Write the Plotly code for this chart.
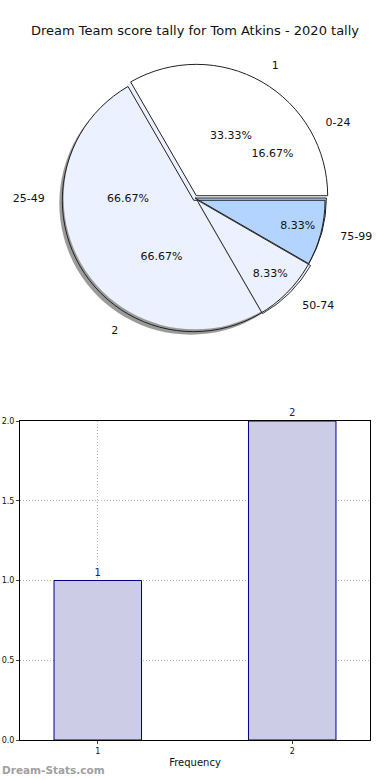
import plotly.graph_objects as go

# ---- data ----
title_text = "Dream Team score tally for Tom Atkins - 2020 tally"
tally_labels = ["1", "2"]
tally_values = [1, 2]
range_labels = ["0-24", "25-49", "50-74", "75-99"]
range_values = [2, 8, 1, 1]
bar_cats = [1, 2]
bar_vals = [1, 2]
y_ticks = [0.0, 0.5, 1.0, 1.5, 2.0]

W, H = 390, 780
def px_x(a, b):
    return [a / W, b / W]
def px_y(top, bot):
    return [1 - bot / H, 1 - top / H]
def py(v):
    return 1 - v / H

def start_rot(vals):
    # first slice starts at 3 o'clock and runs counterclockwise
    return 90 - 360 * vals[0] / sum(vals)

pie_dom = dict(x=px_x(50, 340), y=px_y(64, 332))
shadow_dom = dict(x=px_x(47, 337), y=px_y(67, 335))
label_dom = dict(x=px_x(46, 344), y=px_y(51, 345))

fontfam = "DejaVu Sans"
clear = "rgba(0,0,0,0)"
base = dict(direction="counterclockwise", sort=False, hoverinfo="skip", showlegend=False)

fig = go.Figure()

# shadow
fig.add_trace(go.Pie(labels=tally_labels, values=tally_values, domain=shadow_dom,
                     rotation=start_rot(tally_values),
                     pull=[0.02, 0.02], textinfo="none",
                     marker=dict(colors=["#9a9a9a", "#9a9a9a"], line=dict(width=0)),
                     **base))
# score-range pie (fills)
fig.add_trace(go.Pie(labels=range_labels, values=range_values, domain=pie_dom,
                     rotation=start_rot(range_values), textinfo="none",
                     marker=dict(colors=["#ffffff", "#ebf1fe", "#ebf1fe", "#b3d4ff"],
                                 line=dict(color=[clear, clear, "#333333", "#222222"],
                                           width=[0, 0, 1, 1])),
                     pull=[0, 0, 0.02, 0],
                     **base))
# tally pie (fills)
fig.add_trace(go.Pie(labels=tally_labels, values=tally_values, domain=pie_dom,
                     rotation=start_rot(tally_values),
                     pull=[0.02, 0.02], textinfo="none",
                     marker=dict(colors=["#ffffff", clear],
                                 line=dict(color="#222222", width=1)),
                     **base))
# percent texts
for labs, vals in [(tally_labels, tally_values), (range_labels, range_values)]:
    fig.add_trace(go.Pie(labels=labs, values=vals, domain=pie_dom,
                         rotation=start_rot(vals),
                         texttemplate="%{percent:.2%}", textposition="inside",
                         insidetextorientation="horizontal",
                         textfont=dict(family=fontfam, size=11, color="#111111"),
                         marker=dict(colors=[clear] * len(vals), line=dict(width=0)),
                         **base))
# outside labels
for labs, vals in [(tally_labels, tally_values), (range_labels, range_values)]:
    fig.add_trace(go.Pie(labels=labs, values=vals, domain=label_dom,
                         rotation=start_rot(vals),
                         texttemplate="%{label}", textposition="outside",
                         textfont=dict(family=fontfam, size=11, color="#111111"),
                         marker=dict(colors=[clear] * len(vals), line=dict(width=0)),
                         **base))

# bar chart
fig.add_trace(go.Bar(x=bar_cats, y=bar_vals, width=0.45,
                     marker=dict(color="#ccccE6", line=dict(color="#000080", width=1)),
                     text=[str(v) for v in bar_vals], textposition="outside",
                     textfont=dict(family=fontfam, size=10, color="#1a1a80"),
                     cliponaxis=False, hoverinfo="skip", showlegend=False))

grid = dict(showgrid=True, gridcolor="#b4b4b4", griddash="1px,2px", gridwidth=1,
            showline=True, linecolor="black", linewidth=1, mirror=True,
            ticks="outside", ticklen=3, zeroline=False, automargin=False,
            tickfont=dict(size=8))

fig.update_layout(
    width=W, height=H, margin=dict(l=0, r=0, t=0, b=0, autoexpand=False),
    paper_bgcolor="white", plot_bgcolor="white",
    font=dict(family=fontfam, color="#111111"),
    title=dict(text=title_text, x=195 / W, xanchor="center", y=py(30), yanchor="middle",
               font=dict(family=fontfam, size=13, color="#111111")),
    xaxis=dict(domain=px_x(20, 370), range=[0.6, 2.4], tickvals=bar_cats,
               ticktext=[str(c) for c in bar_cats],
               title=dict(text="Frequency", font=dict(size=10), standoff=4), **grid),
    yaxis=dict(domain=px_y(421, 740), range=[0, 2], tickvals=y_ticks,
               ticktext=["%.1f" % v for v in y_ticks], **grid),
    annotations=[dict(text="<b>Dream-Stats.com</b>", xref="paper", yref="paper",
                      x=0, y=py(770), xanchor="left", yanchor="middle",
                      showarrow=False, font=dict(family=fontfam, size=10.5, color="#a0a0a0"))],
)

fig.write_html("out.html", config={"displayModeBar": False},
               post_script="document.body.style.margin='0';document.body.style.overflow='hidden';")
